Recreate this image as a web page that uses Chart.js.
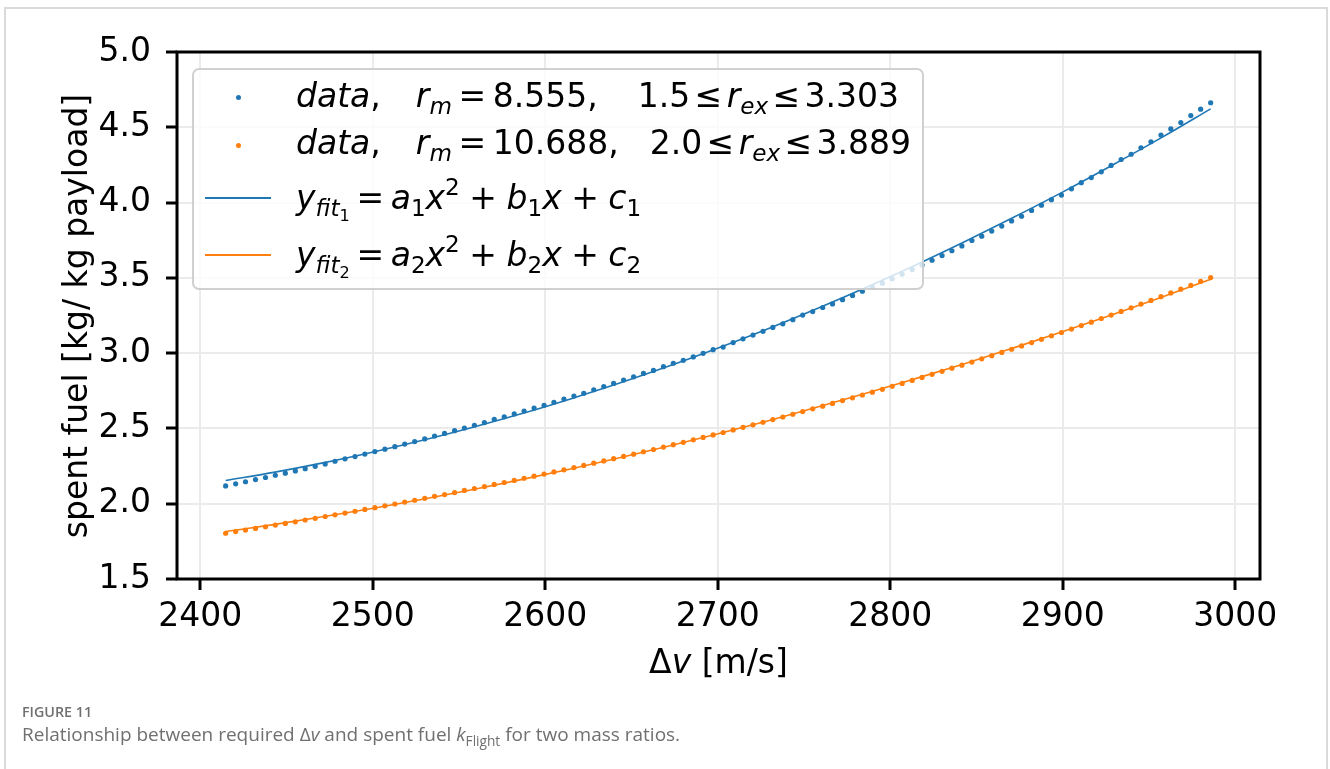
<!DOCTYPE html>
<html>
<head>
<meta charset="utf-8">
<script src="https://cdn.jsdelivr.net/npm/chart.js@4.4.1/dist/chart.umd.min.js"></script>
<style>
  html, body { margin: 0; padding: 0; background: #fff; }
  body { width: 1330px; height: 769px; position: relative; overflow: hidden; font-family: "DejaVu Sans", sans-serif; }
  #frame { position: absolute; left: 4px; top: 7px; width: 1324px; height: 820px; box-sizing: border-box; border: 2px solid #dadada; }
  #c { position: absolute; left: 0; top: 0; }
  .t33 { position: absolute; font-family: "DejaVu Sans", sans-serif; font-size: 33px; color: #000; white-space: pre; }
  #legend { position: absolute; left: 192px; top: 68px; width: 732px; height: 222px; box-sizing: border-box;
            border: 2px solid rgba(200,200,200,0.85); border-radius: 7px; background: rgba(255,255,255,0.8); }
  #legend .row { position: absolute; left: 102px; font-size: 33px; line-height: 33px; white-space: nowrap; font-family: "DejaVu Sans", sans-serif; color: #000; }
  .sb { font-size: 0.7em; position: relative; top: 0.3em; }
  .sp { font-size: 0.7em; position: relative; top: -0.6em; }
  .q { display: inline-block; width: 35px; }
  .q2 { display: inline-block; width: 40px; }
  .q3 { display: inline-block; width: 31px; }
  .r { display: inline-block; width: 6.6px; }
  .l { display: inline-block; width: 4.4px; }
  .b { display: inline-block; width: 9.5px; }
  .dot { position: absolute; width: 5px; height: 5px; border-radius: 50%; }
  .hl { position: absolute; height: 2px; width: 66px; }
  #xt { left: 0; width: 1437px; text-align: center; top: 642px; line-height: 40px; }
  #yt { width: 600px; height: 40px; line-height: 40px; text-align: center; left: -224.4px; top: 295.5px; transform: rotate(-90deg); }
  #fig { position: absolute; left: 22px; top: 702px; font: 600 14.3px "Open Sans", sans-serif; color: #707070; }
  #cap { position: absolute; left: 22px; top: 721px; font: 19px "Open Sans", sans-serif; color: #707070; white-space: pre; }
  #cap .cs { font-size: 0.72em; position: relative; top: 0.35em; }
</style>
</head>
<body>
<div id="frame"></div>
<canvas id="c" width="1330" height="769"></canvas>

<div id="legend">
  <div class="dot" style="left:41.5px;top:24.5px;background:#1f77b4"></div>
  <div class="dot" style="left:41.5px;top:72.5px;background:#ff7f0e"></div>
  <div class="hl" style="left:11px;top:127px;background:#1f77b4"></div>
  <div class="hl" style="left:11px;top:184px;background:#ff7f0e"></div>
  <div class="row" style="top:9px"><i>data</i>,<span class="q"></span><i>r</i><span class="sb"><i>m</i></span><span class="r"></span>=<span class="r"></span>8.555,<span class="q2"></span>1.5<span class="l"></span>≤<span class="l"></span><i>r</i><span class="sb"><i>ex</i></span><span class="l"></span>≤<span class="l"></span>3.303</div>
  <div class="row" style="top:56px"><i>data</i>,<span class="q"></span><i>r</i><span class="sb"><i>m</i></span><span class="r"></span>=<span class="r"></span>10.688,<span class="q3"></span>2.0<span class="l"></span>≤<span class="l"></span><i>r</i><span class="sb"><i>ex</i></span><span class="l"></span>≤<span class="l"></span>3.889</div>
  <div class="row" style="top:111px"><i>y</i><span class="sb"><i>fit</i><span class="sb">1</span></span><span class="r"></span>=<span class="r"></span><i>a</i><span class="sb">1</span><i>x</i><span class="sp">2</span><span class="b"></span>+<span class="b"></span><i>b</i><span class="sb">1</span><i>x</i><span class="b"></span>+<span class="b"></span><i>c</i><span class="sb">1</span></div>
  <div class="row" style="top:168px"><i>y</i><span class="sb"><i>fit</i><span class="sb">2</span></span><span class="r"></span>=<span class="r"></span><i>a</i><span class="sb">2</span><i>x</i><span class="sp">2</span><span class="b"></span>+<span class="b"></span><i>b</i><span class="sb">2</span><i>x</i><span class="b"></span>+<span class="b"></span><i>c</i><span class="sb">2</span></div>
</div>

<div id="xt" class="t33">Δ<i>v</i> [m/s]</div>
<div id="yt" class="t33">spent fuel [kg/ kg payload]</div>

<div id="fig">FIGURE 11</div>
<div id="cap">Relationship between required Δ<i>v</i> and spent fuel <i>k</i><span class="cs">Flight</span> for two mass ratios.</div>

<script>
// ---- data ----
const deltaV = [
  2414.7, 2420.5, 2426.2, 2432.0, 2437.8, 2443.5, 2449.3, 2455.1, 2460.8, 2466.6,
  2472.4, 2478.1, 2483.9, 2489.7, 2495.4, 2501.2, 2507.0, 2512.8, 2518.5, 2524.3,
  2530.1, 2535.8, 2541.6, 2547.4, 2553.1, 2558.9, 2564.7, 2570.4, 2576.2, 2582.0,
  2587.7, 2593.5, 2599.3, 2605.0, 2610.8, 2616.6, 2622.3, 2628.1, 2633.9, 2639.6,
  2645.4, 2651.2, 2656.9, 2662.7, 2668.5, 2674.2, 2680.0, 2685.8, 2691.5, 2697.3,
  2703.1, 2708.9, 2714.6, 2720.4, 2726.2, 2731.9, 2737.7, 2743.5, 2749.2, 2755.0,
  2760.8, 2766.5, 2772.3, 2778.1, 2783.8, 2789.6, 2795.4, 2801.1, 2806.9, 2812.7,
  2818.4, 2824.2, 2830.0, 2835.7, 2841.5, 2847.3, 2853.0, 2858.8, 2864.6, 2870.3,
  2876.1, 2881.9, 2887.6, 2893.4, 2899.2, 2905.0, 2910.7, 2916.5, 2922.3, 2928.0,
  2933.8, 2939.6, 2945.3, 2951.1, 2956.9, 2962.6, 2968.4, 2974.2, 2979.9, 2985.7
];
const fuelRm8555 = [
  2.118, 2.132, 2.146, 2.160, 2.174, 2.189, 2.203, 2.218, 2.233, 2.248,
  2.263, 2.282, 2.298, 2.313, 2.330, 2.346, 2.362, 2.379, 2.396, 2.413,
  2.430, 2.449, 2.467, 2.485, 2.503, 2.521, 2.539, 2.561, 2.577, 2.596,
  2.615, 2.635, 2.654, 2.674, 2.695, 2.715, 2.733, 2.757, 2.778, 2.799,
  2.821, 2.843, 2.865, 2.885, 2.910, 2.933, 2.952, 2.975, 2.999, 3.023,
  3.040, 3.070, 3.095, 3.120, 3.145, 3.171, 3.195, 3.222, 3.253, 3.276,
  3.303, 3.327, 3.355, 3.383, 3.411, 3.440, 3.465, 3.494, 3.524, 3.555,
  3.585, 3.617, 3.648, 3.680, 3.712, 3.748, 3.777, 3.811, 3.844, 3.878,
  3.909, 3.948, 3.983, 4.019, 4.050, 4.091, 4.132, 4.166, 4.204, 4.247,
  4.286, 4.321, 4.364, 4.404, 4.448, 4.489, 4.531, 4.578, 4.620, 4.663
];
const fuelRm10688 = [
  1.804, 1.815, 1.825, 1.836, 1.847, 1.858, 1.869, 1.880, 1.892, 1.903,
  1.915, 1.926, 1.938, 1.950, 1.962, 1.974, 1.986, 1.998, 2.011, 2.023,
  2.036, 2.049, 2.061, 2.074, 2.088, 2.101, 2.114, 2.128, 2.141, 2.155,
  2.169, 2.183, 2.197, 2.211, 2.225, 2.240, 2.254, 2.269, 2.284, 2.299,
  2.314, 2.329, 2.345, 2.360, 2.376, 2.392, 2.408, 2.424, 2.440, 2.457,
  2.473, 2.490, 2.507, 2.524, 2.541, 2.559, 2.576, 2.594, 2.612, 2.630,
  2.648, 2.666, 2.685, 2.703, 2.722, 2.741, 2.760, 2.780, 2.799, 2.819,
  2.839, 2.859, 2.879, 2.900, 2.920, 2.941, 2.962, 2.983, 3.005, 3.026,
  3.048, 3.070, 3.092, 3.115, 3.137, 3.160, 3.183, 3.206, 3.230, 3.253,
  3.277, 3.301, 3.326, 3.350, 3.375, 3.400, 3.425, 3.450, 3.476, 3.502
];
const fitDeltaV = [
  2414.7, 2443.3, 2471.8, 2500.4, 2528.9, 2557.5, 2586.0, 2614.6, 2643.1, 2671.7, 2700.2,
  2728.8, 2757.3, 2785.9, 2814.4, 2843.0, 2871.5, 2900.1, 2928.6, 2957.2, 2985.7
];
const fit1 = [
  2.154, 2.210, 2.273, 2.344, 2.421, 2.506, 2.597, 2.696, 2.801, 2.914, 3.034,
  3.161, 3.295, 3.436, 3.584, 3.740, 3.902, 4.071, 4.248, 4.431, 4.622
];
const fit2 = [
  1.815, 1.863, 1.915, 1.970, 2.030, 2.093, 2.160, 2.230, 2.305, 2.383, 2.465,
  2.550, 2.640, 2.733, 2.830, 2.930, 3.035, 3.143, 3.255, 3.371, 3.490
];
const xTickValues = [2400, 2500, 2600, 2700, 2800, 2900, 3000];
const yTickValues = [1.5, 2.0, 2.5, 3.0, 3.5, 4.0, 4.5, 5.0];

const BLUE = '#1f77b4';
const ORANGE = '#ff7f0e';

const pts = (xs, ys) => xs.map((x, i) => ({ x: x, y: ys[i] }));

const spines = {
  id: 'spines',
  afterDatasetsDraw(chart) {
    const { ctx, chartArea: a } = chart;
    ctx.save();
    ctx.strokeStyle = '#000';
    ctx.lineWidth = 3;
    ctx.strokeRect(a.left, a.top, a.right - a.left, a.bottom - a.top);
    ctx.restore();
  }
};

const tickFont = { family: 'DejaVu Sans', size: 33 };

new Chart(document.getElementById('c'), {
  type: 'scatter',
  data: {
    datasets: [
      { label: 'data rm=8.555', data: pts(deltaV, fuelRm8555), showLine: false,
        pointRadius: 2.6, pointBorderWidth: 0, backgroundColor: BLUE, borderColor: BLUE, order: 1 },
      { label: 'data rm=10.688', data: pts(deltaV, fuelRm10688), showLine: false,
        pointRadius: 2.6, pointBorderWidth: 0, backgroundColor: ORANGE, borderColor: ORANGE, order: 1 },
      { label: 'fit1', data: pts(fitDeltaV, fit1), showLine: true, pointRadius: 0,
        borderColor: BLUE, borderWidth: 1.6, cubicInterpolationMode: 'monotone', order: 0 },
      { label: 'fit2', data: pts(fitDeltaV, fit2), showLine: true, pointRadius: 0,
        borderColor: ORANGE, borderWidth: 1.6, cubicInterpolationMode: 'monotone', order: 0 }
    ]
  },
  options: {
    responsive: false,
    animation: false,
    devicePixelRatio: 1,
    layout: { padding: { left: 0, top: 52, right: 70, bottom: 0 } },
    plugins: { legend: { display: false }, tooltip: { enabled: false }, title: { display: false } },
    scales: {
      x: {
        type: 'linear', min: 2386.5, max: 3014.3,
        afterBuildTicks: s => { s.ticks = xTickValues.map(v => ({ value: v })); },
        afterFit: s => { s.height = 190; },
        ticks: { font: tickFont, color: '#000', padding: 8, maxRotation: 0, autoSkip: false,
                 callback: v => String(v) },
        grid: { color: '#ebebeb', lineWidth: 2, tickColor: '#000', tickWidth: 3, tickLength: 11 },
        border: { display: false },
        title: { display: false }
      },
      y: {
        type: 'linear', min: 1.5, max: 5.0,
        afterBuildTicks: s => { s.ticks = yTickValues.map(v => ({ value: v })); },
        afterFit: s => { s.width = 177; },
        ticks: { font: tickFont, color: '#000', padding: 15, autoSkip: false,
                 callback: v => Number(v).toFixed(1) },
        grid: { color: '#ebebeb', lineWidth: 2, tickColor: '#000', tickWidth: 3, tickLength: 11 },
        border: { display: false },
        title: { display: false }
      }
    }
  },
  plugins: [spines]
});
</script>
</body>
</html>
